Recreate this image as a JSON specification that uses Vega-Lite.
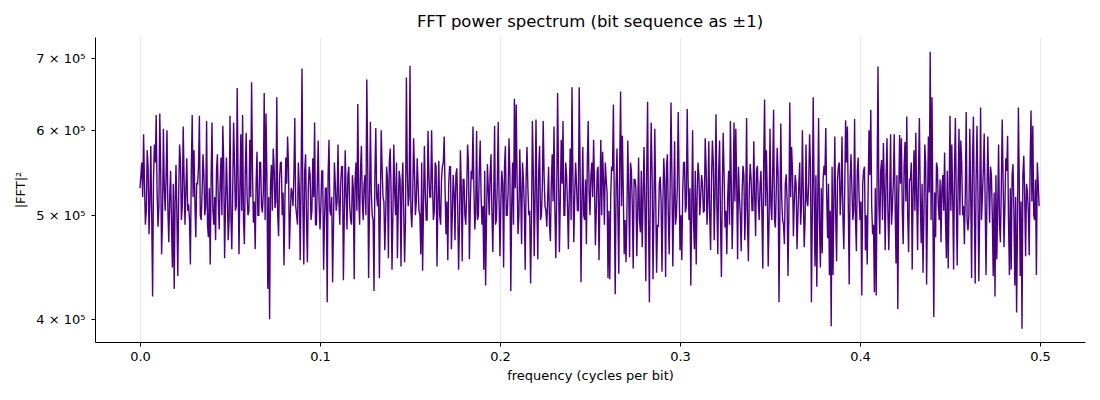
{
  "$schema": "https://vega.github.io/schema/vega-lite/v6.json",
  "title": {"text": "FFT power spectrum (bit sequence as ±1)", "fontSize": 16.5, "fontWeight": "normal", "color": "black", "offset": 7},
  "width": 990,
  "height": 305,
  "autosize": "none",
  "padding": {"left": 95, "top": 37, "right": 15, "bottom": 58},
  "background": "white",
  "config": {
    "font": "DejaVu Sans",
    "view": {"stroke": null},
    "axis": {
      "labelFontSize": 13,
      "titleFontSize": 13,
      "titleFontWeight": "normal",
      "labelColor": "black",
      "titleColor": "black",
      "domainColor": "black",
      "tickColor": "black",
      "tickSize": 4,
      "labelFont": "DejaVu Sans",
      "titleFont": "DejaVu Sans"
    }
  },
  "data": {
    "values": [
      {"f":0.000,"p":5.30e5},{"f":0.001,"p":5.60e5},{"f":0.002,"p":5.95e5},{"f":0.003,"p":4.90e5},{"f":0.004,"p":5.75e5},
      {"f":0.005,"p":4.80e5},{"f":0.006,"p":5.80e5},{"f":0.007,"p":4.20e5},{"f":0.008,"p":5.82e5},{"f":0.009,"p":6.20e5},
      {"f":0.010,"p":4.88e5},{"f":0.011,"p":6.22e5},{"f":0.012,"p":4.60e5},{"f":0.013,"p":6.02e5},{"f":0.014,"p":5.05e5},
      {"f":0.015,"p":6.00e5},{"f":0.016,"p":4.72e5},{"f":0.017,"p":5.50e5},{"f":0.018,"p":4.47e5},{"f":0.019,"p":4.27e5},
      {"f":0.020,"p":5.57e5},{"f":0.021,"p":4.39e5},{"f":0.022,"p":5.82e5},{"f":0.023,"p":4.95e5},{"f":0.024,"p":6.05e5},
      {"f":0.025,"p":4.90e5},{"f":0.026,"p":5.65e5},{"f":0.027,"p":5.12e5},{"f":0.028,"p":4.50e5},{"f":0.029,"p":6.20e5},
      {"f":0.030,"p":5.75e5},{"f":0.031,"p":4.77e5},{"f":0.032,"p":5.35e5},{"f":0.033,"p":6.19e5},{"f":0.034,"p":4.95e5},
      {"f":0.035,"p":5.70e5},{"f":0.036,"p":5.00e5},{"f":0.037,"p":6.12e5},{"f":0.038,"p":4.77e5},{"f":0.039,"p":4.50e5},
      {"f":0.040,"p":6.10e5},{"f":0.041,"p":4.90e5},{"f":0.042,"p":4.74e5},{"f":0.043,"p":5.70e5},{"f":0.044,"p":4.85e5},
      {"f":0.045,"p":5.66e5},{"f":0.046,"p":6.06e5},{"f":0.047,"p":4.56e5},{"f":0.048,"p":5.66e5},{"f":0.049,"p":4.74e5},
      {"f":0.050,"p":6.19e5},{"f":0.051,"p":4.65e5},{"f":0.052,"p":6.10e5},{"f":0.053,"p":5.05e5},{"f":0.054,"p":6.57e5},
      {"f":0.055,"p":4.60e5},{"f":0.056,"p":5.95e5},{"f":0.057,"p":6.20e5},{"f":0.058,"p":4.70e5},{"f":0.059,"p":5.97e5},
      {"f":0.060,"p":5.00e5},{"f":0.061,"p":5.88e5},{"f":0.062,"p":6.65e5},{"f":0.063,"p":4.92e5},{"f":0.064,"p":4.65e5},
      {"f":0.065,"p":5.73e5},{"f":0.066,"p":5.00e5},{"f":0.067,"p":5.60e5},{"f":0.068,"p":5.03e5},{"f":0.069,"p":6.50e5},
      {"f":0.070,"p":6.22e5},{"f":0.071,"p":4.27e5},{"f":0.072,"p":4.00e5},{"f":0.073,"p":5.57e5},{"f":0.074,"p":5.77e5},
      {"f":0.075,"p":5.08e5},{"f":0.076,"p":6.44e5},{"f":0.077,"p":4.78e5},{"f":0.078,"p":5.60e5},{"f":0.079,"p":5.00e5},
      {"f":0.080,"p":4.49e5},{"f":0.081,"p":5.66e5},{"f":0.082,"p":5.92e5},{"f":0.083,"p":4.65e5},{"f":0.084,"p":5.30e5},
      {"f":0.085,"p":5.10e5},{"f":0.086,"p":6.16e5},{"f":0.087,"p":5.00e5},{"f":0.088,"p":5.60e5},{"f":0.089,"p":4.54e5},
      {"f":0.090,"p":6.85e5},{"f":0.091,"p":4.50e5},{"f":0.092,"p":5.70e5},{"f":0.093,"p":4.52e5},{"f":0.094,"p":5.55e5},
      {"f":0.095,"p":4.95e5},{"f":0.096,"p":5.65e5},{"f":0.097,"p":6.10e5},{"f":0.098,"p":4.90e5},{"f":0.099,"p":5.87e5},
      {"f":0.100,"p":4.85e5},{"f":0.101,"p":5.50e5},{"f":0.102,"p":4.45e5},{"f":0.103,"p":5.30e5},{"f":0.104,"p":4.15e5},
      {"f":0.105,"p":5.88e5},{"f":0.106,"p":5.00e5},{"f":0.107,"p":4.33e5},{"f":0.108,"p":5.60e5},{"f":0.109,"p":5.05e5},
      {"f":0.110,"p":5.82e5},{"f":0.111,"p":4.90e5},{"f":0.112,"p":5.55e5},{"f":0.113,"p":4.35e5},{"f":0.114,"p":5.75e5},
      {"f":0.115,"p":4.85e5},{"f":0.116,"p":5.55e5},{"f":0.117,"p":4.95e5},{"f":0.118,"p":5.45e5},{"f":0.119,"p":4.36e5},
      {"f":0.120,"p":5.60e5},{"f":0.121,"p":6.35e5},{"f":0.122,"p":4.90e5},{"f":0.123,"p":5.80e5},{"f":0.124,"p":4.95e5},
      {"f":0.125,"p":5.45e5},{"f":0.126,"p":6.69e5},{"f":0.127,"p":4.37e5},{"f":0.128,"p":6.11e5},{"f":0.129,"p":5.00e5},
      {"f":0.130,"p":4.25e5},{"f":0.131,"p":6.03e5},{"f":0.132,"p":5.10e5},{"f":0.133,"p":4.37e5},{"f":0.134,"p":6.00e5},
      {"f":0.135,"p":5.20e5},{"f":0.136,"p":4.64e5},{"f":0.137,"p":5.55e5},{"f":0.138,"p":4.56e5},{"f":0.139,"p":5.77e5},
      {"f":0.140,"p":4.45e5},{"f":0.141,"p":5.82e5},{"f":0.142,"p":5.00e5},{"f":0.143,"p":4.56e5},{"f":0.144,"p":5.50e5},
      {"f":0.145,"p":4.48e5},{"f":0.146,"p":5.60e5},{"f":0.147,"p":4.52e5},{"f":0.148,"p":6.72e5},{"f":0.149,"p":5.10e5},
      {"f":0.150,"p":6.89e5},{"f":0.151,"p":4.87e5},{"f":0.152,"p":5.90e5},{"f":0.153,"p":5.00e5},{"f":0.154,"p":5.65e5},
      {"f":0.155,"p":5.05e5},{"f":0.156,"p":4.60e5},{"f":0.157,"p":4.44e5},{"f":0.158,"p":5.80e5},{"f":0.159,"p":4.95e5},
      {"f":0.160,"p":5.99e5},{"f":0.161,"p":5.20e5},{"f":0.162,"p":6.00e5},{"f":0.163,"p":4.95e5},{"f":0.164,"p":5.60e5},
      {"f":0.165,"p":4.48e5},{"f":0.166,"p":5.62e5},{"f":0.167,"p":4.90e5},{"f":0.168,"p":5.55e5},{"f":0.169,"p":5.92e5},
      {"f":0.170,"p":4.80e5},{"f":0.171,"p":4.54e5},{"f":0.172,"p":5.55e5},{"f":0.173,"p":4.65e5},{"f":0.174,"p":5.45e5},
      {"f":0.175,"p":4.74e5},{"f":0.176,"p":5.53e5},{"f":0.177,"p":4.45e5},{"f":0.178,"p":5.75e5},{"f":0.179,"p":4.53e5},
      {"f":0.180,"p":5.40e5},{"f":0.181,"p":4.90e5},{"f":0.182,"p":5.82e5},{"f":0.183,"p":4.55e5},{"f":0.184,"p":5.50e5},
      {"f":0.185,"p":6.05e5},{"f":0.186,"p":4.85e5},{"f":0.187,"p":5.99e5},{"f":0.188,"p":5.00e5},{"f":0.189,"p":5.87e5},
      {"f":0.190,"p":4.90e5},{"f":0.191,"p":4.45e5},{"f":0.192,"p":4.30e5},{"f":0.193,"p":5.58e5},{"f":0.194,"p":5.00e5},
      {"f":0.195,"p":5.70e5},{"f":0.196,"p":4.62e5},{"f":0.197,"p":6.06e5},{"f":0.198,"p":4.95e5},{"f":0.199,"p":6.11e5},
      {"f":0.200,"p":4.58e5},{"f":0.201,"p":5.50e5},{"f":0.202,"p":4.47e5},{"f":0.203,"p":5.80e5},{"f":0.204,"p":5.00e5},
      {"f":0.205,"p":5.90e5},{"f":0.206,"p":4.25e5},{"f":0.207,"p":5.60e5},{"f":0.208,"p":6.42e5},{"f":0.209,"p":6.34e5},
      {"f":0.210,"p":4.80e5},{"f":0.211,"p":5.76e5},{"f":0.212,"p":4.70e5},{"f":0.213,"p":5.40e5},{"f":0.214,"p":4.45e5},
      {"f":0.215,"p":5.79e5},{"f":0.216,"p":5.00e5},{"f":0.217,"p":4.32e5},{"f":0.218,"p":6.12e5},{"f":0.219,"p":4.58e5},
      {"f":0.220,"p":6.14e5},{"f":0.221,"p":4.55e5},{"f":0.222,"p":5.80e5},{"f":0.223,"p":5.00e5},{"f":0.224,"p":6.12e5},
      {"f":0.225,"p":5.10e5},{"f":0.226,"p":4.88e5},{"f":0.227,"p":5.55e5},{"f":0.228,"p":4.73e5},{"f":0.229,"p":5.70e5},
      {"f":0.230,"p":6.05e5},{"f":0.231,"p":4.56e5},{"f":0.232,"p":6.50e5},{"f":0.233,"p":4.62e5},{"f":0.234,"p":5.88e5},
      {"f":0.235,"p":6.12e5},{"f":0.236,"p":5.00e5},{"f":0.237,"p":5.45e5},{"f":0.238,"p":4.65e5},{"f":0.239,"p":5.77e5},
      {"f":0.240,"p":6.58e5},{"f":0.241,"p":4.72e5},{"f":0.242,"p":5.60e5},{"f":0.243,"p":5.05e5},{"f":0.244,"p":6.58e5},
      {"f":0.245,"p":4.33e5},{"f":0.246,"p":5.79e5},{"f":0.247,"p":4.95e5},{"f":0.248,"p":4.70e5},{"f":0.249,"p":6.12e5},
      {"f":0.250,"p":5.00e5},{"f":0.251,"p":5.60e5},{"f":0.252,"p":5.88e5},{"f":0.253,"p":4.69e5},{"f":0.254,"p":5.50e5},
      {"f":0.255,"p":4.54e5},{"f":0.256,"p":5.88e5},{"f":0.257,"p":5.73e5},{"f":0.258,"p":4.90e5},{"f":0.259,"p":5.40e5},
      {"f":0.260,"p":4.37e5},{"f":0.261,"p":4.36e5},{"f":0.262,"p":5.55e5},{"f":0.263,"p":6.34e5},{"f":0.264,"p":4.22e5},
      {"f":0.265,"p":5.77e5},{"f":0.266,"p":4.41e5},{"f":0.267,"p":6.52e5},{"f":0.268,"p":5.93e5},{"f":0.269,"p":4.60e5},
      {"f":0.270,"p":4.52e5},{"f":0.271,"p":5.87e5},{"f":0.272,"p":4.57e5},{"f":0.273,"p":5.50e5},{"f":0.274,"p":4.46e5},
      {"f":0.275,"p":5.40e5},{"f":0.276,"p":4.58e5},{"f":0.277,"p":5.66e5},{"f":0.278,"p":4.82e5},{"f":0.279,"p":4.67e5},
      {"f":0.280,"p":5.79e5},{"f":0.281,"p":4.34e5},{"f":0.282,"p":6.38e5},{"f":0.283,"p":4.15e5},{"f":0.284,"p":6.10e5},
      {"f":0.285,"p":4.36e5},{"f":0.286,"p":6.02e5},{"f":0.287,"p":4.42e5},{"f":0.288,"p":4.88e5},{"f":0.289,"p":5.43e5},
      {"f":0.290,"p":4.43e5},{"f":0.291,"p":5.65e5},{"f":0.292,"p":4.38e5},{"f":0.293,"p":5.70e5},{"f":0.294,"p":4.60e5},
      {"f":0.295,"p":6.37e5},{"f":0.296,"p":4.48e5},{"f":0.297,"p":5.86e5},{"f":0.298,"p":5.00e5},{"f":0.299,"p":6.24e5},
      {"f":0.300,"p":4.64e5},{"f":0.301,"p":4.54e5},{"f":0.302,"p":5.60e5},{"f":0.303,"p":5.03e5},{"f":0.304,"p":6.28e5},
      {"f":0.305,"p":4.95e5},{"f":0.306,"p":4.30e5},{"f":0.307,"p":6.00e5},{"f":0.308,"p":4.65e5},{"f":0.309,"p":4.50e5},
      {"f":0.310,"p":5.60e5},{"f":0.311,"p":5.00e5},{"f":0.312,"p":5.45e5},{"f":0.313,"p":5.03e5},{"f":0.314,"p":5.90e5},
      {"f":0.315,"p":4.90e5},{"f":0.316,"p":5.86e5},{"f":0.317,"p":4.64e5},{"f":0.318,"p":5.87e5},{"f":0.319,"p":4.74e5},
      {"f":0.320,"p":6.21e5},{"f":0.321,"p":4.60e5},{"f":0.322,"p":5.87e5},{"f":0.323,"p":4.38e5},{"f":0.324,"p":5.97e5},
      {"f":0.325,"p":4.87e5},{"f":0.326,"p":4.60e5},{"f":0.327,"p":5.50e5},{"f":0.328,"p":6.12e5},{"f":0.329,"p":4.65e5},
      {"f":0.330,"p":6.10e5},{"f":0.331,"p":6.02e5},{"f":0.332,"p":4.55e5},{"f":0.333,"p":5.20e5},{"f":0.334,"p":4.63e5},
      {"f":0.335,"p":5.56e5},{"f":0.336,"p":4.74e5},{"f":0.337,"p":6.16e5},{"f":0.338,"p":4.53e5},{"f":0.339,"p":5.58e5},
      {"f":0.340,"p":5.05e5},{"f":0.341,"p":5.86e5},{"f":0.342,"p":4.78e5},{"f":0.343,"p":5.56e5},{"f":0.344,"p":4.95e5},
      {"f":0.345,"p":5.50e5},{"f":0.346,"p":4.46e5},{"f":0.347,"p":6.41e5},{"f":0.348,"p":5.75e5},{"f":0.349,"p":4.48e5},
      {"f":0.350,"p":6.02e5},{"f":0.351,"p":4.95e5},{"f":0.352,"p":6.27e5},{"f":0.353,"p":4.87e5},{"f":0.354,"p":5.78e5},
      {"f":0.355,"p":4.15e5},{"f":0.356,"p":6.09e5},{"f":0.357,"p":4.95e5},{"f":0.358,"p":4.70e5},{"f":0.359,"p":5.46e5},
      {"f":0.360,"p":4.39e5},{"f":0.361,"p":6.37e5},{"f":0.362,"p":5.79e5},{"f":0.363,"p":4.78e5},{"f":0.364,"p":5.45e5},
      {"f":0.365,"p":4.65e5},{"f":0.366,"p":5.32e5},{"f":0.367,"p":4.90e5},{"f":0.368,"p":6.00e5},{"f":0.369,"p":4.67e5},
      {"f":0.370,"p":5.82e5},{"f":0.371,"p":5.10e5},{"f":0.372,"p":5.95e5},{"f":0.373,"p":4.15e5},{"f":0.374,"p":6.44e5},
      {"f":0.375,"p":4.48e5},{"f":0.376,"p":4.29e5},{"f":0.377,"p":6.16e5},{"f":0.378,"p":4.47e5},{"f":0.379,"p":4.61e5},
      {"f":0.380,"p":5.56e5},{"f":0.381,"p":6.03e5},{"f":0.382,"p":4.76e5},{"f":0.383,"p":4.40e5},{"f":0.384,"p":3.94e5},
      {"f":0.385,"p":4.40e5},{"f":0.386,"p":5.92e5},{"f":0.387,"p":4.53e5},{"f":0.388,"p":5.55e5},{"f":0.389,"p":5.00e5},
      {"f":0.390,"p":5.92e5},{"f":0.391,"p":4.65e5},{"f":0.392,"p":6.13e5},{"f":0.393,"p":6.05e5},{"f":0.394,"p":4.31e5},
      {"f":0.395,"p":5.70e5},{"f":0.396,"p":4.95e5},{"f":0.397,"p":6.15e5},{"f":0.398,"p":4.63e5},{"f":0.399,"p":5.66e5},
      {"f":0.400,"p":4.95e5},{"f":0.401,"p":4.21e5},{"f":0.402,"p":5.50e5},{"f":0.403,"p":4.64e5},{"f":0.404,"p":4.50e5},
      {"f":0.405,"p":6.00e5},{"f":0.406,"p":6.27e5},{"f":0.407,"p":4.80e5},{"f":0.408,"p":4.24e5},{"f":0.409,"p":4.21e5},
      {"f":0.410,"p":6.88e5},{"f":0.411,"p":4.80e5},{"f":0.412,"p":5.63e5},{"f":0.413,"p":5.84e5},{"f":0.414,"p":4.64e5},
      {"f":0.415,"p":5.90e5},{"f":0.416,"p":4.64e5},{"f":0.417,"p":5.95e5},{"f":0.418,"p":5.10e5},{"f":0.419,"p":5.95e5},
      {"f":0.420,"p":4.51e5},{"f":0.421,"p":4.09e5},{"f":0.422,"p":5.94e5},{"f":0.423,"p":5.90e5},{"f":0.424,"p":4.70e5},
      {"f":0.425,"p":5.85e5},{"f":0.426,"p":6.18e5},{"f":0.427,"p":4.62e5},{"f":0.428,"p":5.40e5},{"f":0.429,"p":4.45e5},
      {"f":0.430,"p":5.75e5},{"f":0.431,"p":5.97e5},{"f":0.432,"p":4.64e5},{"f":0.433,"p":6.16e5},{"f":0.434,"p":4.71e5},
      {"f":0.435,"p":4.42e5},{"f":0.436,"p":5.82e5},{"f":0.437,"p":4.31e5},{"f":0.438,"p":5.92e5},{"f":0.439,"p":7.10e5},
      {"f":0.440,"p":6.44e5},{"f":0.441,"p":4.02e5},{"f":0.442,"p":4.77e5},{"f":0.443,"p":5.53e5},{"f":0.444,"p":4.95e5},
      {"f":0.445,"p":4.72e5},{"f":0.446,"p":5.45e5},{"f":0.447,"p":5.72e5},{"f":0.448,"p":4.56e5},{"f":0.449,"p":4.46e5},
      {"f":0.450,"p":6.19e5},{"f":0.451,"p":5.82e5},{"f":0.452,"p":4.45e5},{"f":0.453,"p":6.16e5},{"f":0.454,"p":4.49e5},
      {"f":0.455,"p":6.02e5},{"f":0.456,"p":5.87e5},{"f":0.457,"p":5.00e5},{"f":0.458,"p":4.70e5},{"f":0.459,"p":6.24e5},
      {"f":0.460,"p":4.84e5},{"f":0.461,"p":6.02e5},{"f":0.462,"p":4.37e5},{"f":0.463,"p":6.18e5},{"f":0.464,"p":4.32e5},
      {"f":0.465,"p":6.06e5},{"f":0.466,"p":4.34e5},{"f":0.467,"p":6.30e5},{"f":0.468,"p":5.20e5},{"f":0.469,"p":5.96e5},
      {"f":0.470,"p":4.40e5},{"f":0.471,"p":5.92e5},{"f":0.472,"p":4.92e5},{"f":0.473,"p":5.45e5},{"f":0.474,"p":4.39e5},
      {"f":0.475,"p":4.20e5},{"f":0.476,"p":4.55e5},{"f":0.477,"p":5.82e5},{"f":0.478,"p":4.72e5},{"f":0.479,"p":6.14e5},
      {"f":0.480,"p":4.67e5},{"f":0.481,"p":5.65e5},{"f":0.482,"p":5.93e5},{"f":0.483,"p":4.40e5},{"f":0.484,"p":4.45e5},
      {"f":0.485,"p":5.58e5},{"f":0.486,"p":4.30e5},{"f":0.487,"p":4.06e5},{"f":0.488,"p":6.30e5},{"f":0.489,"p":4.39e5},
      {"f":0.490,"p":3.92e5},{"f":0.491,"p":5.68e5},{"f":0.492,"p":4.58e5},{"f":0.493,"p":5.26e5},{"f":0.494,"p":4.59e5},
      {"f":0.495,"p":6.26e5},{"f":0.496,"p":6.06e5},{"f":0.497,"p":4.95e5},{"f":0.498,"p":4.40e5},{"f":0.499,"p":5.36e5},
      {"f":0.4995,"p":5.10e5},

      {"f":0.0005,"p":5.45e5},{"f":0.0015,"p":5.20e5},{"f":0.0025,"p":5.35e5},{"f":0.0035,"p":5.05e5},{"f":0.0045,"p":5.55e5},
      {"f":0.0055,"p":5.15e5},{"f":0.0065,"p":5.00e5},{"f":0.0075,"p":5.40e5},{"f":0.0085,"p":5.60e5},{"f":0.0095,"p":5.25e5},
      {"f":0.0105,"p":5.10e5},{"f":0.0115,"p":5.50e5},{"f":0.0125,"p":4.95e5},{"f":0.0135,"p":5.30e5},{"f":0.0145,"p":5.45e5},
      {"f":0.0155,"p":5.05e5},{"f":0.0165,"p":5.20e5},{"f":0.0175,"p":4.90e5},{"f":0.0185,"p":5.35e5},{"f":0.0195,"p":5.15e5},
      {"f":0.0205,"p":5.00e5},{"f":0.0215,"p":5.25e5},{"f":0.0225,"p":5.60e5},{"f":0.0235,"p":5.10e5},{"f":0.0245,"p":5.40e5},
      {"f":0.0255,"p":5.30e5},{"f":0.0265,"p":5.05e5},{"f":0.0275,"p":4.95e5},{"f":0.0285,"p":5.50e5},{"f":0.0295,"p":5.20e5},
      {"f":0.0305,"p":5.15e5},{"f":0.0315,"p":5.35e5},{"f":0.0325,"p":5.55e5},{"f":0.0335,"p":5.00e5},{"f":0.0345,"p":5.25e5},
      {"f":0.0355,"p":5.45e5},{"f":0.0365,"p":5.10e5},{"f":0.0375,"p":4.90e5},{"f":0.0385,"p":5.30e5},{"f":0.0395,"p":5.40e5},
      {"f":0.0405,"p":5.05e5},{"f":0.0415,"p":5.20e5},{"f":0.0425,"p":5.50e5},{"f":0.0435,"p":5.15e5},{"f":0.0445,"p":5.35e5},
      {"f":0.0455,"p":5.00e5},{"f":0.0465,"p":5.60e5},{"f":0.0475,"p":5.10e5},{"f":0.0485,"p":5.25e5},{"f":0.0495,"p":4.95e5},
      {"f":0.0505,"p":5.00e5},{"f":0.0515,"p":5.25e5},{"f":0.0525,"p":5.60e5},{"f":0.0535,"p":5.10e5},{"f":0.0545,"p":5.40e5},
      {"f":0.0555,"p":5.30e5},{"f":0.0565,"p":5.05e5},{"f":0.0575,"p":4.95e5},{"f":0.0585,"p":5.50e5},{"f":0.0595,"p":5.20e5},
      {"f":0.0605,"p":5.05e5},{"f":0.0615,"p":5.20e5},{"f":0.0625,"p":5.50e5},{"f":0.0635,"p":5.15e5},{"f":0.0645,"p":5.35e5},
      {"f":0.0655,"p":5.00e5},{"f":0.0665,"p":5.60e5},{"f":0.0675,"p":5.10e5},{"f":0.0685,"p":5.25e5},{"f":0.0695,"p":4.95e5},
      {"f":0.0705,"p":5.45e5},{"f":0.0715,"p":5.20e5},{"f":0.0725,"p":5.35e5},{"f":0.0735,"p":5.05e5},{"f":0.0745,"p":5.55e5},
      {"f":0.0755,"p":5.15e5},{"f":0.0765,"p":5.00e5},{"f":0.0775,"p":5.40e5},{"f":0.0785,"p":5.60e5},{"f":0.0795,"p":5.25e5},
      {"f":0.0805,"p":5.15e5},{"f":0.0815,"p":5.35e5},{"f":0.0825,"p":5.55e5},{"f":0.0835,"p":5.00e5},{"f":0.0845,"p":5.25e5},
      {"f":0.0855,"p":5.45e5},{"f":0.0865,"p":5.10e5},{"f":0.0875,"p":4.90e5},{"f":0.0885,"p":5.30e5},{"f":0.0895,"p":5.40e5},
      {"f":0.0905,"p":5.10e5},{"f":0.0915,"p":5.50e5},{"f":0.0925,"p":4.95e5},{"f":0.0935,"p":5.30e5},{"f":0.0945,"p":5.45e5},
      {"f":0.0955,"p":5.05e5},{"f":0.0965,"p":5.20e5},{"f":0.0975,"p":4.90e5},{"f":0.0985,"p":5.35e5},{"f":0.0995,"p":5.15e5},
      {"f":0.1005,"p":5.10e5},{"f":0.1015,"p":5.50e5},{"f":0.1025,"p":4.95e5},{"f":0.1035,"p":5.30e5},{"f":0.1045,"p":5.45e5},
      {"f":0.1055,"p":5.05e5},{"f":0.1065,"p":5.20e5},{"f":0.1075,"p":4.90e5},{"f":0.1085,"p":5.35e5},{"f":0.1095,"p":5.15e5},
      {"f":0.1105,"p":5.15e5},{"f":0.1115,"p":5.35e5},{"f":0.1125,"p":5.55e5},{"f":0.1135,"p":5.00e5},{"f":0.1145,"p":5.25e5},
      {"f":0.1155,"p":5.45e5},{"f":0.1165,"p":5.10e5},{"f":0.1175,"p":4.90e5},{"f":0.1185,"p":5.30e5},{"f":0.1195,"p":5.40e5},
      {"f":0.1205,"p":5.05e5},{"f":0.1215,"p":5.20e5},{"f":0.1225,"p":5.50e5},{"f":0.1235,"p":5.15e5},{"f":0.1245,"p":5.35e5},
      {"f":0.1255,"p":5.00e5},{"f":0.1265,"p":5.60e5},{"f":0.1275,"p":5.10e5},{"f":0.1285,"p":5.25e5},{"f":0.1295,"p":4.95e5},
      {"f":0.1305,"p":5.45e5},{"f":0.1315,"p":5.20e5},{"f":0.1325,"p":5.35e5},{"f":0.1335,"p":5.05e5},{"f":0.1345,"p":5.55e5},
      {"f":0.1355,"p":5.15e5},{"f":0.1365,"p":5.00e5},{"f":0.1375,"p":5.40e5},{"f":0.1385,"p":5.60e5},{"f":0.1395,"p":5.25e5},
      {"f":0.1405,"p":5.00e5},{"f":0.1415,"p":5.25e5},{"f":0.1425,"p":5.60e5},{"f":0.1435,"p":5.10e5},{"f":0.1445,"p":5.40e5},
      {"f":0.1455,"p":5.30e5},{"f":0.1465,"p":5.05e5},{"f":0.1475,"p":4.95e5},{"f":0.1485,"p":5.50e5},{"f":0.1495,"p":5.20e5},
      {"f":0.1505,"p":5.05e5},{"f":0.1515,"p":5.20e5},{"f":0.1525,"p":5.50e5},{"f":0.1535,"p":5.15e5},{"f":0.1545,"p":5.35e5},
      {"f":0.1555,"p":5.00e5},{"f":0.1565,"p":5.60e5},{"f":0.1575,"p":5.10e5},{"f":0.1585,"p":5.25e5},{"f":0.1595,"p":4.95e5},
      {"f":0.1605,"p":5.45e5},{"f":0.1615,"p":5.20e5},{"f":0.1625,"p":5.35e5},{"f":0.1635,"p":5.05e5},{"f":0.1645,"p":5.55e5},
      {"f":0.1655,"p":5.15e5},{"f":0.1665,"p":5.00e5},{"f":0.1675,"p":5.40e5},{"f":0.1685,"p":5.60e5},{"f":0.1695,"p":5.25e5},
      {"f":0.1705,"p":5.15e5},{"f":0.1715,"p":5.35e5},{"f":0.1725,"p":5.55e5},{"f":0.1735,"p":5.00e5},{"f":0.1745,"p":5.25e5},
      {"f":0.1755,"p":5.45e5},{"f":0.1765,"p":5.10e5},{"f":0.1775,"p":4.90e5},{"f":0.1785,"p":5.30e5},{"f":0.1795,"p":5.40e5},
      {"f":0.1805,"p":5.00e5},{"f":0.1815,"p":5.25e5},{"f":0.1825,"p":5.60e5},{"f":0.1835,"p":5.10e5},{"f":0.1845,"p":5.40e5},
      {"f":0.1855,"p":5.30e5},{"f":0.1865,"p":5.05e5},{"f":0.1875,"p":4.95e5},{"f":0.1885,"p":5.50e5},{"f":0.1895,"p":5.20e5},
      {"f":0.1905,"p":5.10e5},{"f":0.1915,"p":5.50e5},{"f":0.1925,"p":4.95e5},{"f":0.1935,"p":5.30e5},{"f":0.1945,"p":5.45e5},
      {"f":0.1955,"p":5.05e5},{"f":0.1965,"p":5.20e5},{"f":0.1975,"p":4.90e5},{"f":0.1985,"p":5.35e5},{"f":0.1995,"p":5.15e5},
      {"f":0.2005,"p":5.15e5},{"f":0.2015,"p":5.35e5},{"f":0.2025,"p":5.55e5},{"f":0.2035,"p":5.00e5},{"f":0.2045,"p":5.25e5},
      {"f":0.2055,"p":5.45e5},{"f":0.2065,"p":5.10e5},{"f":0.2075,"p":4.90e5},{"f":0.2085,"p":5.30e5},{"f":0.2095,"p":5.40e5},
      {"f":0.2105,"p":5.00e5},{"f":0.2115,"p":5.25e5},{"f":0.2125,"p":5.60e5},{"f":0.2135,"p":5.10e5},{"f":0.2145,"p":5.40e5},
      {"f":0.2155,"p":5.30e5},{"f":0.2165,"p":5.05e5},{"f":0.2175,"p":4.95e5},{"f":0.2185,"p":5.50e5},{"f":0.2195,"p":5.20e5},
      {"f":0.2205,"p":5.10e5},{"f":0.2215,"p":5.50e5},{"f":0.2225,"p":4.95e5},{"f":0.2235,"p":5.30e5},{"f":0.2245,"p":5.45e5},
      {"f":0.2255,"p":5.05e5},{"f":0.2265,"p":5.20e5},{"f":0.2275,"p":4.90e5},{"f":0.2285,"p":5.35e5},{"f":0.2295,"p":5.15e5},
      {"f":0.2305,"p":5.05e5},{"f":0.2315,"p":5.20e5},{"f":0.2325,"p":5.50e5},{"f":0.2335,"p":5.15e5},{"f":0.2345,"p":5.35e5},
      {"f":0.2355,"p":5.00e5},{"f":0.2365,"p":5.60e5},{"f":0.2375,"p":5.10e5},{"f":0.2385,"p":5.25e5},{"f":0.2395,"p":4.95e5},
      {"f":0.2405,"p":5.45e5},{"f":0.2415,"p":5.20e5},{"f":0.2425,"p":5.35e5},{"f":0.2435,"p":5.05e5},{"f":0.2445,"p":5.55e5},
      {"f":0.2455,"p":5.15e5},{"f":0.2465,"p":5.00e5},{"f":0.2475,"p":5.40e5},{"f":0.2485,"p":5.60e5},{"f":0.2495,"p":5.25e5},
      {"f":0.2505,"p":5.45e5},{"f":0.2515,"p":5.20e5},{"f":0.2525,"p":5.35e5},{"f":0.2535,"p":5.05e5},{"f":0.2545,"p":5.55e5},
      {"f":0.2555,"p":5.15e5},{"f":0.2565,"p":5.00e5},{"f":0.2575,"p":5.40e5},{"f":0.2585,"p":5.60e5},{"f":0.2595,"p":5.25e5},
      {"f":0.2605,"p":5.05e5},{"f":0.2615,"p":5.20e5},{"f":0.2625,"p":5.50e5},{"f":0.2635,"p":5.15e5},{"f":0.2645,"p":5.35e5},
      {"f":0.2655,"p":5.00e5},{"f":0.2665,"p":5.60e5},{"f":0.2675,"p":5.10e5},{"f":0.2685,"p":5.25e5},{"f":0.2695,"p":4.95e5},
      {"f":0.2705,"p":5.00e5},{"f":0.2715,"p":5.25e5},{"f":0.2725,"p":5.60e5},{"f":0.2735,"p":5.10e5},{"f":0.2745,"p":5.40e5},
      {"f":0.2755,"p":5.30e5},{"f":0.2765,"p":5.05e5},{"f":0.2775,"p":4.95e5},{"f":0.2785,"p":5.50e5},{"f":0.2795,"p":5.20e5},
      {"f":0.2805,"p":5.10e5},{"f":0.2815,"p":5.50e5},{"f":0.2825,"p":4.95e5},{"f":0.2835,"p":5.30e5},{"f":0.2845,"p":5.45e5},
      {"f":0.2855,"p":5.05e5},{"f":0.2865,"p":5.20e5},{"f":0.2875,"p":4.90e5},{"f":0.2885,"p":5.35e5},{"f":0.2895,"p":5.15e5},
      {"f":0.2905,"p":5.15e5},{"f":0.2915,"p":5.35e5},{"f":0.2925,"p":5.55e5},{"f":0.2935,"p":5.00e5},{"f":0.2945,"p":5.25e5},
      {"f":0.2955,"p":5.45e5},{"f":0.2965,"p":5.10e5},{"f":0.2975,"p":4.90e5},{"f":0.2985,"p":5.30e5},{"f":0.2995,"p":5.40e5},
      {"f":0.3005,"p":5.00e5},{"f":0.3015,"p":5.25e5},{"f":0.3025,"p":5.60e5},{"f":0.3035,"p":5.10e5},{"f":0.3045,"p":5.40e5},
      {"f":0.3055,"p":5.30e5},{"f":0.3065,"p":5.05e5},{"f":0.3075,"p":4.95e5},{"f":0.3085,"p":5.50e5},{"f":0.3095,"p":5.20e5},
      {"f":0.3105,"p":5.45e5},{"f":0.3115,"p":5.20e5},{"f":0.3125,"p":5.35e5},{"f":0.3135,"p":5.05e5},{"f":0.3145,"p":5.55e5},
      {"f":0.3155,"p":5.15e5},{"f":0.3165,"p":5.00e5},{"f":0.3175,"p":5.40e5},{"f":0.3185,"p":5.60e5},{"f":0.3195,"p":5.25e5},
      {"f":0.3205,"p":5.10e5},{"f":0.3215,"p":5.50e5},{"f":0.3225,"p":4.95e5},{"f":0.3235,"p":5.30e5},{"f":0.3245,"p":5.45e5},
      {"f":0.3255,"p":5.05e5},{"f":0.3265,"p":5.20e5},{"f":0.3275,"p":4.90e5},{"f":0.3285,"p":5.35e5},{"f":0.3295,"p":5.15e5},
      {"f":0.3305,"p":5.15e5},{"f":0.3315,"p":5.35e5},{"f":0.3325,"p":5.55e5},{"f":0.3335,"p":5.00e5},{"f":0.3345,"p":5.25e5},
      {"f":0.3355,"p":5.45e5},{"f":0.3365,"p":5.10e5},{"f":0.3375,"p":4.90e5},{"f":0.3385,"p":5.30e5},{"f":0.3395,"p":5.40e5},
      {"f":0.3405,"p":5.05e5},{"f":0.3415,"p":5.20e5},{"f":0.3425,"p":5.50e5},{"f":0.3435,"p":5.15e5},{"f":0.3445,"p":5.35e5},
      {"f":0.3455,"p":5.00e5},{"f":0.3465,"p":5.60e5},{"f":0.3475,"p":5.10e5},{"f":0.3485,"p":5.25e5},{"f":0.3495,"p":4.95e5},
      {"f":0.3505,"p":5.10e5},{"f":0.3515,"p":5.50e5},{"f":0.3525,"p":4.95e5},{"f":0.3535,"p":5.30e5},{"f":0.3545,"p":5.45e5},
      {"f":0.3555,"p":5.05e5},{"f":0.3565,"p":5.20e5},{"f":0.3575,"p":4.90e5},{"f":0.3585,"p":5.35e5},{"f":0.3595,"p":5.15e5},
      {"f":0.3605,"p":5.05e5},{"f":0.3615,"p":5.20e5},{"f":0.3625,"p":5.50e5},{"f":0.3635,"p":5.15e5},{"f":0.3645,"p":5.35e5},
      {"f":0.3655,"p":5.00e5},{"f":0.3665,"p":5.60e5},{"f":0.3675,"p":5.10e5},{"f":0.3685,"p":5.25e5},{"f":0.3695,"p":4.95e5},
      {"f":0.3705,"p":5.15e5},{"f":0.3715,"p":5.35e5},{"f":0.3725,"p":5.55e5},{"f":0.3735,"p":5.00e5},{"f":0.3745,"p":5.25e5},
      {"f":0.3755,"p":5.45e5},{"f":0.3765,"p":5.10e5},{"f":0.3775,"p":4.90e5},{"f":0.3785,"p":5.30e5},{"f":0.3795,"p":5.40e5},
      {"f":0.3805,"p":5.45e5},{"f":0.3815,"p":5.20e5},{"f":0.3825,"p":5.35e5},{"f":0.3835,"p":5.05e5},{"f":0.3845,"p":5.55e5},
      {"f":0.3855,"p":5.15e5},{"f":0.3865,"p":5.00e5},{"f":0.3875,"p":5.40e5},{"f":0.3885,"p":5.60e5},{"f":0.3895,"p":5.25e5},
      {"f":0.3905,"p":5.00e5},{"f":0.3915,"p":5.25e5},{"f":0.3925,"p":5.60e5},{"f":0.3935,"p":5.10e5},{"f":0.3945,"p":5.40e5},
      {"f":0.3955,"p":5.30e5},{"f":0.3965,"p":5.05e5},{"f":0.3975,"p":4.95e5},{"f":0.3985,"p":5.50e5},{"f":0.3995,"p":5.20e5},
      {"f":0.4005,"p":5.15e5},{"f":0.4015,"p":5.35e5},{"f":0.4025,"p":5.55e5},{"f":0.4035,"p":5.00e5},{"f":0.4045,"p":5.25e5},
      {"f":0.4055,"p":5.45e5},{"f":0.4065,"p":5.10e5},{"f":0.4075,"p":4.90e5},{"f":0.4085,"p":5.30e5},{"f":0.4095,"p":5.40e5},
      {"f":0.4105,"p":5.10e5},{"f":0.4115,"p":5.50e5},{"f":0.4125,"p":4.95e5},{"f":0.4135,"p":5.30e5},{"f":0.4145,"p":5.45e5},
      {"f":0.4155,"p":5.05e5},{"f":0.4165,"p":5.20e5},{"f":0.4175,"p":4.90e5},{"f":0.4185,"p":5.35e5},{"f":0.4195,"p":5.15e5},
      {"f":0.4205,"p":5.45e5},{"f":0.4215,"p":5.20e5},{"f":0.4225,"p":5.35e5},{"f":0.4235,"p":5.05e5},{"f":0.4245,"p":5.55e5},
      {"f":0.4255,"p":5.15e5},{"f":0.4265,"p":5.00e5},{"f":0.4275,"p":5.40e5},{"f":0.4285,"p":5.60e5},{"f":0.4295,"p":5.25e5},
      {"f":0.4305,"p":5.05e5},{"f":0.4315,"p":5.20e5},{"f":0.4325,"p":5.50e5},{"f":0.4335,"p":5.15e5},{"f":0.4345,"p":5.35e5},
      {"f":0.4355,"p":5.00e5},{"f":0.4365,"p":5.60e5},{"f":0.4375,"p":5.10e5},{"f":0.4385,"p":5.25e5},{"f":0.4395,"p":4.95e5},
      {"f":0.4405,"p":5.00e5},{"f":0.4415,"p":5.25e5},{"f":0.4425,"p":5.60e5},{"f":0.4435,"p":5.10e5},{"f":0.4445,"p":5.40e5},
      {"f":0.4455,"p":5.30e5},{"f":0.4465,"p":5.05e5},{"f":0.4475,"p":4.95e5},{"f":0.4485,"p":5.50e5},{"f":0.4495,"p":5.20e5},
      {"f":0.4505,"p":5.05e5},{"f":0.4515,"p":5.20e5},{"f":0.4525,"p":5.50e5},{"f":0.4535,"p":5.15e5},{"f":0.4545,"p":5.35e5},
      {"f":0.4555,"p":5.00e5},{"f":0.4565,"p":5.60e5},{"f":0.4575,"p":5.10e5},{"f":0.4585,"p":5.25e5},{"f":0.4595,"p":4.95e5},
      {"f":0.4605,"p":5.00e5},{"f":0.4615,"p":5.25e5},{"f":0.4625,"p":5.60e5},{"f":0.4635,"p":5.10e5},{"f":0.4645,"p":5.40e5},
      {"f":0.4655,"p":5.30e5},{"f":0.4665,"p":5.05e5},{"f":0.4675,"p":4.95e5},{"f":0.4685,"p":5.50e5},{"f":0.4695,"p":5.20e5},
      {"f":0.4705,"p":5.15e5},{"f":0.4715,"p":5.35e5},{"f":0.4725,"p":5.55e5},{"f":0.4735,"p":5.00e5},{"f":0.4745,"p":5.25e5},
      {"f":0.4755,"p":5.45e5},{"f":0.4765,"p":5.10e5},{"f":0.4775,"p":4.90e5},{"f":0.4785,"p":5.30e5},{"f":0.4795,"p":5.40e5},
      {"f":0.4805,"p":5.10e5},{"f":0.4815,"p":5.50e5},{"f":0.4825,"p":4.95e5},{"f":0.4835,"p":5.30e5},{"f":0.4845,"p":5.45e5},
      {"f":0.4855,"p":5.05e5},{"f":0.4865,"p":5.20e5},{"f":0.4875,"p":4.90e5},{"f":0.4885,"p":5.35e5},{"f":0.4895,"p":5.15e5},
      {"f":0.4905,"p":5.45e5},{"f":0.4915,"p":5.20e5},{"f":0.4925,"p":5.35e5},{"f":0.4935,"p":5.05e5},{"f":0.4945,"p":5.55e5},
      {"f":0.4955,"p":5.15e5},{"f":0.4965,"p":5.00e5},{"f":0.4975,"p":5.40e5},{"f":0.4985,"p":5.60e5}
    ]
  },
  "mark": {"type": "line", "color": "#4B0082", "strokeWidth": 1.4, "clip": true},
  "encoding": {
    "x": {
      "field": "f",
      "type": "quantitative",
      "title": "frequency (cycles per bit)",
      "scale": {"domain": [-0.025, 0.525], "nice": false, "zero": false},
      "axis": {
        "values": [0, 0.1, 0.2, 0.3, 0.4, 0.5],
        "format": ".1f",
        "grid": true,
        "gridColor": "#e6e6e6",
        "gridWidth": 0.8,
        "labelPadding": 4,
        "titlePadding": 6
      }
    },
    "y": {
      "field": "p",
      "type": "quantitative",
      "title": "|FFT|²",
      "scale": {"type": "log", "domain": [381000, 733000], "nice": false},
      "axis": {
        "values": [400000, 500000, 600000, 700000],
        "labelExpr": "format(datum.value / 100000, 'd') + ' × 10⁵'",
        "grid": false,
        "labelPadding": 6,
        "titlePadding": 8
      }
    }
  }
}
